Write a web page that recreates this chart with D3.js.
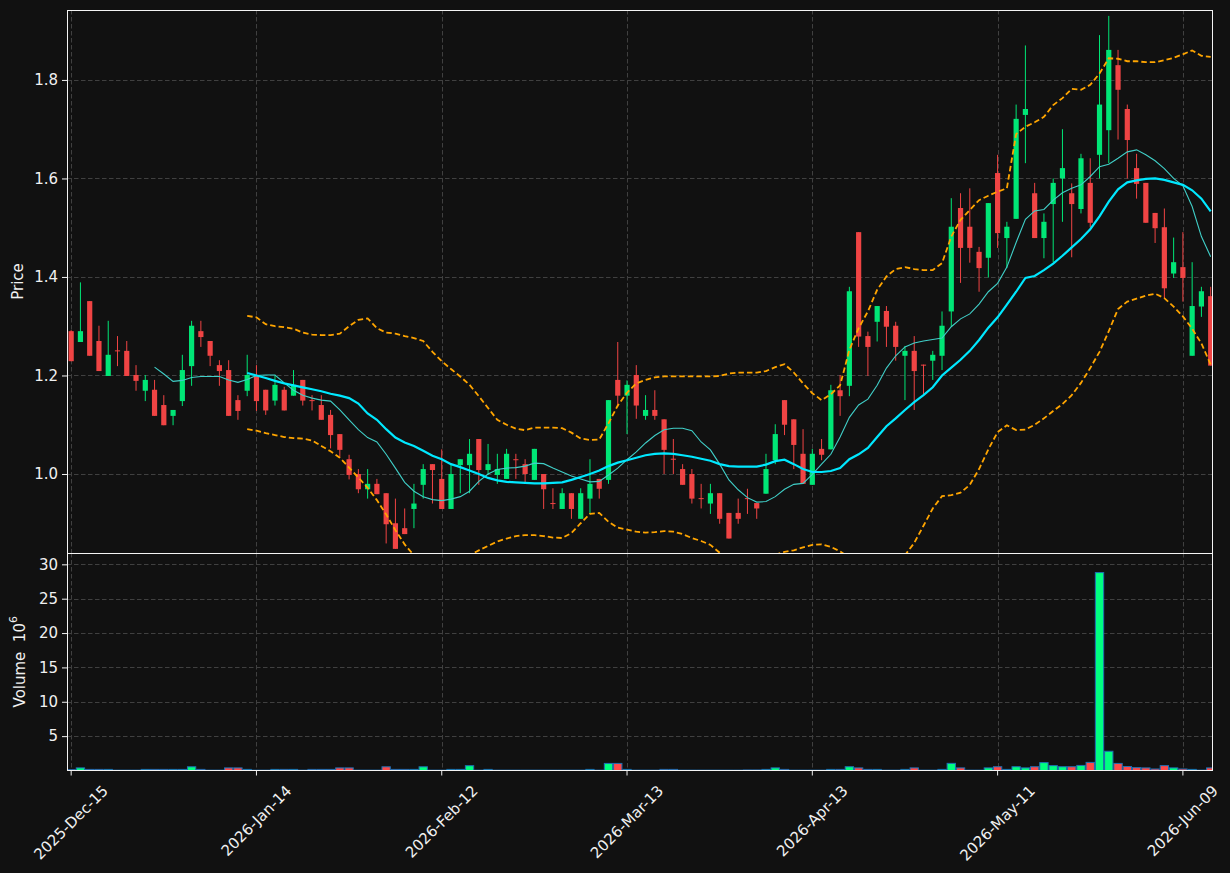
<!DOCTYPE html>
<html>
<head>
<meta charset="utf-8">
<script src="https://cdn.jsdelivr.net/npm/d3@7"></script>
<style>
  html, body { margin: 0; padding: 0; background: #111111; }
  svg { display: block; font-family: "DejaVu Sans", sans-serif; }
</style>
</head>
<body>
<div id="chart"></div>
<script>
// --- data (bar index 0..123, business days) ---
const tickIdx = [0, 20, 40, 60, 80, 100, 120];
const tickLabels = ["2025-Dec-15", "2026-Jan-14", "2026-Feb-12", "2026-Mar-13", "2026-Apr-13", "2026-May-11", "2026-Jun-09"];

const opens = [1.290,1.268,1.351,1.270,1.199,1.251,1.250,1.201,1.169,1.171,1.140,1.118,1.148,1.219,1.290,1.270,1.221,1.211,1.150,1.169,
  1.201,1.171,1.149,1.171,1.159,1.191,1.150,1.140,1.120,1.081,1.030,1.000,0.969,0.980,0.961,0.900,0.890,0.929,0.978,1.020,
  0.990,0.929,1.018,1.018,1.071,1.008,0.998,0.990,1.030,1.020,0.988,1.000,0.941,0.929,0.961,0.909,0.950,0.990,0.988,1.191,
  1.159,1.201,1.118,1.130,1.111,1.031,1.010,1.000,0.951,0.940,0.961,0.921,0.921,0.951,0.941,0.960,1.028,1.150,1.111,1.041,
  0.978,1.051,1.050,1.170,1.179,1.491,1.280,1.309,1.331,1.301,1.240,1.250,1.222,1.230,1.240,1.330,1.540,1.502,1.451,1.439,
  1.611,1.479,1.518,1.729,1.570,1.479,1.548,1.600,1.570,1.538,1.591,1.648,1.698,1.830,1.741,1.621,1.591,1.530,1.501,1.407,
  1.420,1.240,1.340,1.361];
const highs = [1.292,1.389,1.351,1.301,1.311,1.280,1.270,1.221,1.201,1.191,1.160,1.130,1.242,1.311,1.311,1.270,1.231,1.231,1.160,1.242,
  1.221,1.171,1.201,1.177,1.211,1.191,1.160,1.160,1.130,1.081,1.039,1.010,1.010,0.990,0.961,0.950,0.930,0.980,1.020,1.020,
  1.050,1.020,1.030,1.071,1.071,1.061,1.041,1.051,1.041,1.030,1.051,1.000,0.971,0.971,0.961,0.971,1.030,0.990,1.150,1.268,
  1.190,1.221,1.160,1.170,1.111,1.071,1.020,1.010,0.980,0.980,0.961,0.921,0.950,0.970,0.941,1.041,1.101,1.150,1.111,1.091,
  1.051,1.071,1.181,1.201,1.380,1.491,1.289,1.341,1.341,1.309,1.260,1.280,1.222,1.250,1.330,1.560,1.570,1.580,1.461,1.550,
  1.648,1.512,1.750,1.870,1.591,1.529,1.600,1.700,1.590,1.650,1.641,1.891,1.930,1.861,1.750,1.650,1.591,1.530,1.539,1.480,
  1.491,1.430,1.380,1.380];
const lows = [1.229,1.268,1.240,1.209,1.199,1.219,1.199,1.169,1.148,1.118,1.099,1.099,1.138,1.179,1.258,1.219,1.179,1.118,1.110,1.158,
  1.128,1.120,1.139,1.129,1.159,1.139,1.129,1.110,1.052,1.035,0.989,0.961,0.950,0.959,0.859,0.848,0.878,0.890,0.950,0.940,
  0.929,0.929,0.961,0.961,0.978,0.998,0.980,0.990,0.990,0.980,0.988,0.929,0.929,0.929,0.909,0.909,0.919,0.950,0.980,1.137,
  1.081,1.112,1.110,1.110,1.000,1.000,0.978,0.940,0.930,0.919,0.899,0.869,0.899,0.919,0.909,0.960,1.020,1.079,1.010,0.980,
  0.978,1.028,1.050,1.118,1.158,1.258,1.199,1.269,1.258,1.230,1.150,1.130,1.160,1.191,1.211,1.299,1.388,1.429,1.370,1.399,
  1.459,1.418,1.518,1.631,1.479,1.438,1.430,1.512,1.440,1.529,1.501,1.600,1.631,1.679,1.600,1.559,1.510,1.469,1.357,1.398,
  1.350,1.240,1.319,1.220];
const closes = [1.229,1.290,1.240,1.209,1.242,1.249,1.199,1.189,1.191,1.118,1.099,1.130,1.211,1.301,1.278,1.240,1.209,1.118,1.128,1.201,
  1.148,1.129,1.181,1.129,1.181,1.149,1.149,1.110,1.079,1.049,0.998,0.969,0.980,0.959,0.898,0.848,0.878,0.940,1.010,1.008,
  0.929,1.000,1.030,1.041,1.008,1.020,1.010,1.041,1.029,1.000,1.051,0.969,0.940,0.961,0.929,0.961,0.980,0.970,1.150,1.159,
  1.181,1.139,1.130,1.118,1.049,1.030,0.978,0.950,0.950,0.961,0.909,0.869,0.909,0.950,0.930,1.010,1.081,1.100,1.059,0.980,
  1.041,1.039,1.170,1.158,1.371,1.279,1.258,1.341,1.299,1.258,1.250,1.209,1.221,1.242,1.301,1.502,1.459,1.459,1.418,1.550,
  1.489,1.502,1.721,1.741,1.479,1.512,1.591,1.621,1.548,1.641,1.510,1.750,1.861,1.780,1.678,1.589,1.510,1.499,1.377,1.430,
  1.398,1.341,1.371,1.220];
// volume, millions
const volumes = [0.12,0.38,0.16,0.16,0.16,0.05,0.05,0.05,0.16,0.16,0.16,0.16,0.16,0.54,0.16,0.05,0.05,0.38,0.38,0.16,
  0.05,0.05,0.16,0.16,0.16,0.05,0.16,0.16,0.16,0.38,0.38,0.05,0.05,0.05,0.54,0.16,0.16,0.16,0.54,0.05,
  0.05,0.16,0.16,0.70,0.05,0.16,0.05,0.05,0.05,0.05,0.05,0.05,0.05,0.05,0.05,0.05,0.16,0.05,1.03,1.03,
  0.16,0.05,0.05,0.05,0.16,0.16,0.05,0.05,0.05,0.05,0.05,0.05,0.05,0.08,0.08,0.16,0.38,0.16,0.05,0.05,
  0.05,0.05,0.16,0.16,0.55,0.38,0.16,0.16,0.05,0.05,0.16,0.38,0.05,0.05,0.16,1.04,0.38,0.05,0.05,0.38,
  0.55,0.16,0.55,0.38,0.55,1.15,0.71,0.55,0.55,0.74,1.18,28.8,2.8,1.03,0.58,0.42,0.38,0.22,0.71,0.38,
  0.22,0.16,0.05,0.38];

// overlays as drawn in the reference
const ma10 = [null,null,null,null,null,null,null,null,null,1.217,1.203,1.188,1.190,1.196,1.198,1.198,1.198,1.191,1.186,1.192,
  1.200,1.201,1.201,1.185,1.170,1.160,1.154,1.150,1.148,1.130,1.110,1.090,1.074,1.065,1.040,1.012,0.983,0.965,0.954,0.948,
  0.946,0.949,0.954,0.965,0.985,1.000,1.009,1.012,1.013,1.016,1.022,1.021,1.012,1.004,0.996,0.990,0.984,0.985,0.998,1.012,
  1.029,1.045,1.063,1.078,1.090,1.093,1.093,1.088,1.065,1.049,1.020,0.988,0.968,0.952,0.943,0.944,0.954,0.969,0.979,0.981,
  0.999,1.020,1.040,1.075,1.115,1.140,1.152,1.180,1.215,1.240,1.258,1.266,1.270,1.273,1.276,1.299,1.315,1.325,1.345,1.370,
  1.387,1.420,1.470,1.517,1.534,1.537,1.556,1.571,1.580,1.587,1.604,1.624,1.629,1.641,1.654,1.658,1.648,1.636,1.620,1.600,
  1.585,1.543,1.482,1.441];
const ma20 = [null,null,null,null,null,null,null,null,null,null,null,null,null,null,null,null,null,null,null,1.205,
  1.200,1.195,1.189,1.184,1.180,1.176,1.172,1.168,1.163,1.159,1.154,1.143,1.123,1.110,1.091,1.074,1.064,1.057,1.047,1.037,
  1.030,1.020,1.014,1.007,1.000,0.992,0.987,0.984,0.983,0.982,0.981,0.981,0.982,0.983,0.988,0.994,1.000,1.007,1.016,1.023,
  1.028,1.033,1.038,1.041,1.042,1.041,1.038,1.035,1.031,1.027,1.020,1.016,1.015,1.015,1.015,1.019,1.026,1.029,1.020,1.010,
  1.004,1.004,1.006,1.012,1.030,1.040,1.053,1.075,1.097,1.113,1.130,1.146,1.160,1.176,1.200,1.216,1.232,1.250,1.272,1.297,
  1.318,1.344,1.370,1.398,1.402,1.414,1.427,1.443,1.460,1.477,1.497,1.523,1.553,1.578,1.592,1.596,1.599,1.600,1.597,1.592,
  1.587,1.576,1.559,1.533];
const bandUpper = [null,null,null,null,null,null,null,null,null,null,null,null,null,null,null,null,null,null,null,1.321,
  1.318,1.304,1.300,1.298,1.295,1.287,1.283,1.282,1.282,1.285,1.300,1.313,1.316,1.296,1.287,1.285,1.280,1.276,1.270,1.248,
  1.229,1.213,1.198,1.181,1.158,1.134,1.110,1.100,1.092,1.089,1.094,1.094,1.094,1.093,1.084,1.072,1.069,1.070,1.103,1.139,
  1.165,1.184,1.191,1.196,1.198,1.198,1.198,1.198,1.198,1.198,1.199,1.204,1.206,1.206,1.206,1.209,1.217,1.223,1.206,1.184,
  1.164,1.150,1.162,1.180,1.252,1.296,1.330,1.374,1.401,1.416,1.420,1.416,1.414,1.414,1.428,1.482,1.516,1.536,1.556,1.565,
  1.573,1.580,1.690,1.705,1.714,1.725,1.749,1.763,1.782,1.780,1.790,1.813,1.844,1.843,1.838,1.838,1.836,1.836,1.840,1.845,
  1.852,1.860,1.849,1.847];
const bandLower = [null,null,null,null,null,null,null,null,null,null,null,null,null,null,null,null,null,null,null,1.091,
  1.088,1.083,1.079,1.075,1.073,1.072,1.068,1.057,1.046,1.033,1.013,0.993,0.972,0.947,0.918,0.886,0.857,0.835,0.815,0.800,
  0.795,0.800,0.815,0.835,0.845,0.854,0.863,0.869,0.874,0.876,0.876,0.874,0.871,0.870,0.880,0.900,0.919,0.921,0.903,0.891,
  0.887,0.883,0.881,0.882,0.884,0.883,0.878,0.870,0.864,0.856,0.840,0.825,0.815,0.810,0.815,0.825,0.836,0.842,0.845,0.851,
  0.856,0.857,0.852,0.843,0.830,0.820,0.810,0.800,0.800,0.815,0.835,0.860,0.895,0.930,0.955,0.957,0.962,0.978,1.010,1.050,
  1.085,1.099,1.089,1.090,1.100,1.113,1.128,1.142,1.160,1.185,1.215,1.248,1.290,1.335,1.350,1.356,1.362,1.366,1.357,1.340,
  1.320,1.295,1.265,1.222];

const priceTicks = [1.0, 1.2, 1.4, 1.6, 1.8];
const volTicks = [5, 10, 15, 20, 25, 30];

// --- layout ---
const W = 1230, H = 873;
const padL = 67, padR = 1213, pTop = 10, pMid = 553, pBot = 770.5;
const upCandle = "#00e676", downCandle = "#f04444";
const upVol = "#00ff80", downVol = "#ff4848";
const fg = "#f0f0f0";
const fs = 15;

const svg = d3.select("#chart").append("svg").attr("width", W).attr("height", H);
svg.append("rect").attr("width", W).attr("height", H).attr("fill", "#111111");

const x = d3.scaleLinear().domain([-0.45, 123.25]).range([padL, padR]);
const y = d3.scaleLinear().domain([0.8396, 1.942]).range([pMid, pTop]);
const yv = d3.scaleLinear().domain([0, 31.65]).range([pBot, pMid]);
const step = x(1) - x(0);

const defs = svg.append("defs");
defs.append("clipPath").attr("id", "clipP").append("rect")
  .attr("x", padL).attr("y", pTop).attr("width", padR - padL).attr("height", pMid - pTop);
defs.append("clipPath").attr("id", "clipV").append("rect")
  .attr("x", padL).attr("y", pMid).attr("width", padR - padL).attr("height", pBot - pMid);

// grid
function drawGrid(ticks, scale, y0, y1) {
  const g = svg.append("g").attr("stroke", "#404040").attr("stroke-width", 1).attr("stroke-dasharray", "4.5,2.5");
  g.selectAll(null).data(ticks).join("line")
    .attr("x1", padL).attr("x2", padR)
    .attr("y1", d => Math.round(scale(d)) + 0.5).attr("y2", d => Math.round(scale(d)) + 0.5);
  g.selectAll(null).data(tickIdx).join("line")
    .attr("x1", d => Math.round(x(d)) + 0.5).attr("x2", d => Math.round(x(d)) + 0.5)
    .attr("y1", y0).attr("y2", y1);
}
drawGrid(priceTicks, y, pTop, pMid);
drawGrid(volTicks, yv, pMid, pBot);

// candles
const idx = d3.range(opens.length);
const cg = svg.append("g").attr("clip-path", "url(#clipP)");
const bodyW = step * 0.56;
cg.selectAll(".wick").data(idx).join("line")
  .attr("x1", i => x(i)).attr("x2", i => x(i))
  .attr("y1", i => y(highs[i])).attr("y2", i => y(lows[i]))
  .attr("stroke", i => closes[i] >= opens[i] ? upCandle : downCandle)
  .attr("stroke-width", 1);
cg.selectAll(".body").data(idx).join("rect")
  .attr("x", i => x(i) - bodyW / 2).attr("width", bodyW)
  .attr("y", i => y(Math.max(opens[i], closes[i])))
  .attr("height", i => Math.max(1, Math.abs(y(opens[i]) - y(closes[i]))))
  .attr("fill", i => closes[i] >= opens[i] ? upCandle : downCandle);

// overlays
const line = d3.line().defined(d => d != null).x((d, i) => x(i)).y(d => y(d));
const og = svg.append("g").attr("clip-path", "url(#clipP)").attr("fill", "none");
og.append("path").attr("d", line(bandUpper)).attr("stroke", "#ffa500").attr("stroke-width", 1.8).attr("stroke-dasharray", "5.5,3");
og.append("path").attr("d", line(bandLower)).attr("stroke", "#ffa500").attr("stroke-width", 1.8).attr("stroke-dasharray", "5.5,3");
og.append("path").attr("d", line(ma10)).attr("stroke", "#40cfc8").attr("stroke-width", 1.1);
og.append("path").attr("d", line(ma20)).attr("stroke", "#00e8ff").attr("stroke-width", 2.2);

// volume
const vg = svg.append("g").attr("clip-path", "url(#clipV)");
const volW = step * 0.9;
vg.selectAll("rect").data(idx).join("rect")
  .attr("x", i => x(i) - volW / 2).attr("width", volW)
  .attr("y", i => yv(volumes[i])).attr("height", i => pBot - yv(volumes[i]))
  .attr("fill", i => closes[i] >= opens[i] ? upVol : downVol)
  .attr("stroke", "#1f6fb4").attr("stroke-width", 1);

// spines
svg.append("rect").attr("x", padL + 0.5).attr("y", pTop + 0.5).attr("width", padR - padL - 1).attr("height", pMid - pTop)
  .attr("fill", "none").attr("stroke", "#f4f4f4").attr("stroke-width", 1);
svg.append("rect").attr("x", padL + 0.5).attr("y", pMid + 0.5).attr("width", padR - padL - 1).attr("height", pBot - pMid - 0.5)
  .attr("fill", "none").attr("stroke", "#f4f4f4").attr("stroke-width", 1);

// y axes
function styleAxis(g) {
  g.select(".domain").remove();
  g.selectAll(".tick line").attr("stroke", fg);
  g.selectAll(".tick text").attr("fill", fg).attr("font-size", fs).attr("font-family", "DejaVu Sans");
}
svg.append("g").attr("transform", `translate(${padL},0)`)
  .call(d3.axisLeft(y).tickValues(priceTicks).tickFormat(d3.format(".1f")).tickSize(5).tickPadding(4))
  .call(styleAxis);
svg.append("g").attr("transform", `translate(${padL},0)`)
  .call(d3.axisLeft(yv).tickValues(volTicks).tickFormat(d3.format("d")).tickSize(5).tickPadding(4))
  .call(styleAxis);

// x axis ticks + rotated labels
const xg = svg.append("g");
xg.selectAll("line").data(tickIdx).join("line")
  .attr("x1", d => x(d)).attr("x2", d => x(d)).attr("y1", pBot).attr("y2", pBot + 5)
  .attr("stroke", fg);
xg.selectAll("text").data(tickIdx).join("text")
  .attr("font-size", fs).attr("fill", fg).attr("text-anchor", "middle").attr("dominant-baseline", "central")
  .text((d, k) => tickLabels[k])
  .each(function (d) {
    const len = this.getComputedTextLength();
    const h = (len + fs) * Math.SQRT1_2;
    d3.select(this).attr("transform", `translate(${x(d)},${783 + h / 2}) rotate(-45)`);
  });

// axis titles
svg.append("text").attr("transform", `translate(18,${(pTop + pMid) / 2}) rotate(-90)`)
  .attr("text-anchor", "middle").attr("dominant-baseline", "central")
  .attr("fill", fg).attr("font-size", fs).text("Price");
const vt = svg.append("text").attr("transform", `translate(20,${(pMid + pBot) / 2}) rotate(-90)`)
  .attr("text-anchor", "middle").attr("dominant-baseline", "central")
  .attr("fill", fg).attr("font-size", fs).style("white-space", "pre");
vt.append("tspan").text("Volume  10");
vt.append("tspan").attr("dy", -7).attr("font-size", 11).text("6");
</script>
</body>
</html>
